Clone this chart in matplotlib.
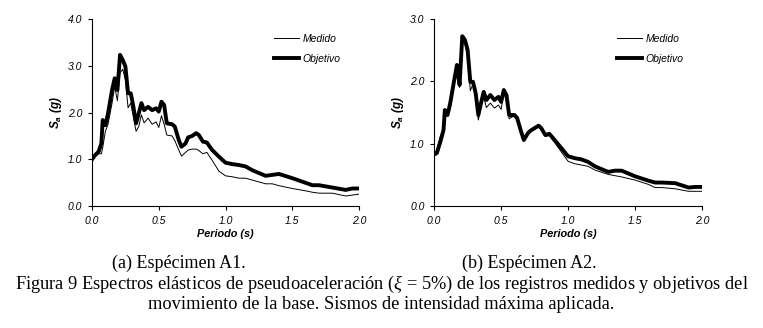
import matplotlib
matplotlib.use("Agg")
import matplotlib.pyplot as plt

plt.rcParams["font.family"] = "Liberation Sans"
plt.rcParams["mathtext.fontset"] = "custom"
plt.rcParams["mathtext.sf"] = "Liberation Sans:italic:bold"
plt.rcParams["mathtext.it"] = "Liberation Serif:italic"
plt.rcParams["mathtext.rm"] = "Liberation Serif"

# periods (s), shared by all four spectra
periodo = [0.0, 0.02, 0.05, 0.07, 0.08, 0.10, 0.12, 0.15, 0.17, 0.19, 0.21,
           0.23, 0.25, 0.27, 0.29, 0.31, 0.33, 0.35, 0.37, 0.39, 0.42, 0.45,
           0.48, 0.50, 0.52, 0.54, 0.56, 0.60, 0.62, 0.65, 0.67, 0.70, 0.72,
           0.75, 0.78, 0.80, 0.83, 0.86, 0.90, 0.95, 1.00, 1.05, 1.10, 1.15,
           1.20, 1.30, 1.35, 1.40, 1.50, 1.60, 1.65, 1.70, 1.80, 1.90, 1.95,
           2.00]

# (a) Especimen A1
a1_medido = [1.00, 1.05, 1.12, 1.12, 1.25, 1.60, 1.75, 2.20, 2.55, 2.25, 2.85,
             2.92, 2.70, 2.10, 2.20, 1.90, 1.60, 1.70, 1.95, 1.78, 1.88, 1.75,
             1.80, 1.68, 1.93, 1.75, 1.52, 1.50, 1.40, 1.20, 1.07, 1.15, 1.20,
             1.22, 1.22, 1.19, 1.12, 1.15, 0.98, 0.75, 0.65, 0.63, 0.60, 0.60,
             0.56, 0.48, 0.48, 0.44, 0.38, 0.33, 0.30, 0.28, 0.28, 0.22, 0.24,
             0.26]
a1_objetivo = [1.00, 1.08, 1.17, 1.34, 1.84, 1.73, 1.98, 2.48, 2.73, 2.48, 3.23,
               3.12, 2.98, 2.41, 2.41, 2.12, 1.77, 1.98, 2.20, 2.05, 2.12, 2.05,
               2.09, 2.02, 2.23, 2.16, 1.77, 1.75, 1.70, 1.41, 1.27, 1.34, 1.47,
               1.50, 1.56, 1.52, 1.38, 1.36, 1.20, 1.06, 0.93, 0.90, 0.88, 0.85,
               0.77, 0.65, 0.67, 0.69, 0.60, 0.50, 0.45, 0.45, 0.40, 0.35, 0.38,
               0.38]

# (b) Especimen A2
a2_medido = [0.83, 0.90, 1.15, 1.15, 1.45, 1.50, 1.55, 1.95, 2.15, 1.90, 2.65,
             2.60, 2.40, 1.85, 1.95, 1.75, 1.38, 1.60, 1.75, 1.58, 1.65, 1.57,
             1.62, 1.55, 1.80, 1.70, 1.40, 1.45, 1.40, 1.18, 1.06, 1.15, 1.20,
             1.23, 1.27, 1.22, 1.12, 1.13, 1.02, 0.87, 0.72, 0.68, 0.66, 0.64,
             0.58, 0.51, 0.49, 0.47, 0.42, 0.35, 0.30, 0.30, 0.28, 0.24, 0.24,
             0.24]
a2_objetivo = [0.83, 0.85, 1.06, 1.22, 1.54, 1.46, 1.65, 2.02, 2.26, 1.94, 2.72,
               2.66, 2.50, 1.99, 1.99, 1.81, 1.46, 1.65, 1.83, 1.70, 1.78, 1.70,
               1.75, 1.67, 1.86, 1.78, 1.46, 1.46, 1.41, 1.19, 1.06, 1.17, 1.21,
               1.25, 1.29, 1.25, 1.14, 1.16, 1.06, 0.93, 0.80, 0.77, 0.75, 0.71,
               0.64, 0.55, 0.57, 0.57, 0.48, 0.41, 0.38, 0.38, 0.37, 0.30, 0.31,
               0.31]

x_ticks = [0.0, 0.5, 1.0, 1.5, 2.0]
y_ticks_a = [0.0, 1.0, 2.0, 3.0, 4.0]
y_ticks_b = [0.0, 1.0, 2.0, 3.0]

fig = plt.figure(figsize=(7.63, 3.28), dpi=100)
ax1 = fig.add_axes([0.1206, 0.371, 0.350, 0.572])
ax2 = fig.add_axes([0.569, 0.371, 0.351, 0.572])


def draw_panel(ax, medido, objetivo, yticks):
    ax.plot(periodo, medido, color="black", lw=0.7, label="Medido")
    ax.plot(periodo, objetivo, color="black", lw=2.8, label="Objetivo")
    ax.set_xlim(0, 2.0)
    ax.set_ylim(0, yticks[-1])
    ax.set_xticks(x_ticks)
    ax.set_yticks(yticks)
    ax.set_xticklabels([f"{v:.1f}" for v in x_ticks])
    ax.set_yticklabels([f"{v:.1f}" for v in yticks])
    for s in ["top", "right"]:
        ax.spines[s].set_visible(False)
    for s in ["left", "bottom"]:
        ax.spines[s].set_linewidth(0.8)
    ax.tick_params(length=3, width=0.8, labelsize=7.5, pad=4)
    for lab in ax.get_xticklabels() + ax.get_yticklabels():
        lab.set_fontstyle("italic")
    ax.set_xlabel("Periodo (s)", fontsize=7.8, fontstyle="italic",
                  fontweight="bold", labelpad=2)
    ax.set_ylabel(r"$\mathsf{S_a}$ (g)", fontsize=8.5, fontstyle="italic",
                  fontweight="bold", labelpad=3)
    leg = ax.legend(loc="upper right", bbox_to_anchor=(0.965, 0.97),
                    frameon=False, fontsize=7.5, handlelength=2.4,
                    labelspacing=1.0, handletextpad=0.3)
    for t in leg.get_texts():
        t.set_fontstyle("italic")


draw_panel(ax1, a1_medido, a1_objetivo, y_ticks_a)
draw_panel(ax2, a2_medido, a2_objetivo, y_ticks_b)

serif = "Liberation Serif"
fig.text(0.235, 0.197, "(a) Espécimen A1.", ha="center", va="center",
         family=serif, fontsize=13)
fig.text(0.693, 0.197, "(b) Espécimen A2.", ha="center", va="center",
         family=serif, fontsize=13)
fig.text(0.5, 0.133,
         "Figura 9 Espectros elásticos de pseudoaceleración ($\\xi$ = 5%) "
         "de los registros medidos y objetivos del",
         ha="center", va="center", family=serif, fontsize=13.2)
fig.text(0.5, 0.073,
         "movimiento de la base. Sismos de intensidad máxima aplicada.",
         ha="center", va="center", family=serif, fontsize=13.2)

fig.savefig("out.png", dpi=100)
